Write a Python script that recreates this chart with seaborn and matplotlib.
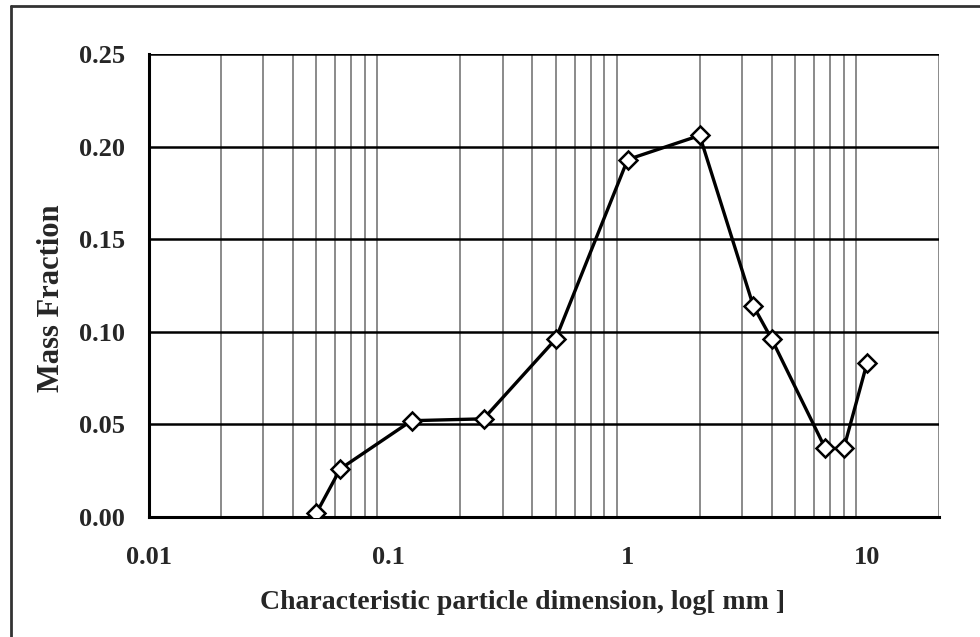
import matplotlib
matplotlib.use("Agg")
import matplotlib.pyplot as plt
from matplotlib.lines import Line2D
from matplotlib.ticker import LogLocator, FixedLocator, NullFormatter, FuncFormatter
import seaborn as sns
import pandas as pd

# Sieve sizes (mm) and mass fraction retained
particle_size_mm = [0.05, 0.063, 0.125, 0.25, 0.5, 1.0, 2.0, 3.35, 4.0, 6.7, 8.0, 10.0]
mass_fraction = [0.002, 0.026, 0.052, 0.053, 0.096, 0.193, 0.206, 0.114, 0.096, 0.037, 0.037, 0.083]

y_ticks = [0.00, 0.05, 0.10, 0.15, 0.20, 0.25]
x_major_ticks = [0.01, 0.1, 1, 10]
x_label = "Characteristic particle dimension, log[ mm ]"
y_label = "Mass Fraction"

df = pd.DataFrame({"size": particle_size_mm, "fraction": mass_fraction})

sns.set_style("white")
plt.rcParams["font.family"] = ["Liberation Serif", "DejaVu Serif"]
plt.rcParams["font.weight"] = "bold"

fig = plt.figure(figsize=(9.8, 6.37), dpi=100)
ax = fig.add_axes([149 / 980, 1 - 517 / 637, (939 - 149) / 980, (517 - 54) / 637])

sns.lineplot(
    data=df, x="size", y="fraction", ax=ax,
    color="black", linewidth=2.4,
    marker="D", markersize=9.5, markerfacecolor="white",
    markeredgecolor="black", markeredgewidth=1.8,
    zorder=5,
)

ax.set_xscale("log")
ax.set_xlim(0.01, 20)
ax.set_ylim(0, 0.25)

# Vertical grid at every 1..9 multiple of each decade
ax.xaxis.set_major_locator(FixedLocator(x_major_ticks))
ax.xaxis.set_minor_locator(LogLocator(base=10, subs=range(1, 10), numticks=50))
ax.xaxis.set_minor_formatter(NullFormatter())
ax.xaxis.set_major_formatter(FuncFormatter(lambda v, p: f"{v:g}"))
ax.grid(True, axis="x", which="minor", color="#8a8a8a", linewidth=1.4)
ax.grid(False, axis="x", which="major")

ax.set_yticks(y_ticks)
ax.yaxis.set_major_formatter(FuncFormatter(lambda v, p: f"{v:.2f}"))
ax.grid(True, axis="y", which="major", color="black", linewidth=1.8)

ax.tick_params(axis="x", which="major", direction="out", length=5.8, width=2,
               labelsize=19, pad=15, color="black")
ax.tick_params(axis="x", which="minor", length=0)
ax.tick_params(axis="y", which="major", direction="inout", length=11, width=2,
               labelsize=19, pad=12, color="black")
for lab in ax.get_xticklabels() + ax.get_yticklabels():
    lab.set_fontweight("bold")

for side in ("top", "right"):
    ax.spines[side].set_visible(False)
for side in ("left", "bottom"):
    ax.spines[side].set_color("black")
    ax.spines[side].set_linewidth(2.2)

ax.set_xlabel(x_label, fontsize=20, fontweight="bold", va="center")
ax.xaxis.set_label_coords(0.4728, -0.1847)
ax.set_ylabel(y_label, fontsize=22, fontweight="bold", va="center")
ax.yaxis.set_label_coords(-0.123, 0.473)

# Outer frame of the chart area
fig.add_artist(Line2D([11 / 980, 11 / 980], [0, 1 - 6 / 637], transform=fig.transFigure,
                      color="#333333", linewidth=2))
fig.add_artist(Line2D([11 / 980, 1], [1 - 6 / 637, 1 - 6 / 637], transform=fig.transFigure,
                      color="#333333", linewidth=2))

fig.savefig("out.png", dpi=100)
